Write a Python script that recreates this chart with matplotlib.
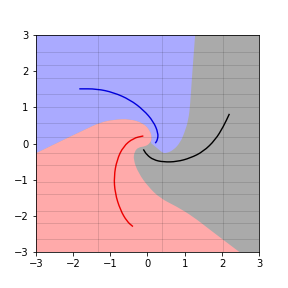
import matplotlib
matplotlib.use('Agg')
import matplotlib.pyplot as plt
from matplotlib.path import Path
from matplotlib.patches import PathPatch

# decision region borders
blue_edge_x = [1.28, 1.23, 1.19, 1.15, 1.10, 0.99, 0.88, 0.70, 0.50, 0.40, 0.30, 0.16, 0.08,
               0.12, 0.07, -0.11, -0.47, -0.91, -1.27, -1.65, -2.26, -3]
blue_edge_y = [3, 2.31, 1.76, 1.11, 0.65, 0.29, 0.03, -0.18, -0.27, -0.25, -0.16, -0.04, 0.02,
               0.15, 0.36, 0.56, 0.68, 0.66, 0.58, 0.40, 0.10, -0.27]
red_edge_x = [-3, -2.26, -1.65, -1.27, -0.91, -0.47, -0.11, 0.07, 0.12, 0.07, -0.06, -0.24, -0.35,
              -0.38, -0.24, 0.02, 0.34, 0.79, 1.23, 1.68, 2.04, 2.40, 2.48]
red_edge_y = [-0.27, 0.10, 0.40, 0.58, 0.66, 0.68, 0.56, 0.36, 0.15, 0.01, -0.08, -0.10, -0.22,
              -0.45, -0.82, -1.19, -1.51, -1.74, -2.02, -2.38, -2.66, -2.94, -3]

# spiral arms
blue_arm_x = [-1.83, -1.36, -0.91, -0.47, -0.11, 0.16, 0.29, 0.27, 0.21]
blue_arm_y = [1.51, 1.51, 1.41, 1.21, 0.93, 0.61, 0.29, 0.10, 0.01]
red_arm_x = [-0.11, -0.38, -0.65, -0.82, -0.90, -0.87, -0.73, -0.55, -0.39]
red_arm_y = [0.21, 0.15, -0.08, -0.45, -0.91, -1.37, -1.83, -2.15, -2.29]
black_arm_x = [-0.11, -0.02, 0.16, 0.43, 0.79, 1.15, 1.50, 1.82, 2.04, 2.20]
black_arm_y = [-0.16, -0.31, -0.45, -0.51, -0.50, -0.40, -0.22, 0.10, 0.47, 0.82]

# faint seam lines visible in the background
seam_y = [2.52, 2.17, 1.80, 1.36, 1.00, 0.56, 0.19, -0.25, -0.60, -1.05, -1.40, -1.85, -2.20, -2.64]
seam_x = [-1.34, 0.38, 2.02]


def smooth(xs, ys, corners=()):
    # quadratic curve through the midpoints, ends kept exact
    pts = list(zip(xs, ys))
    verts = [pts[0], ((pts[0][0] + pts[1][0]) / 2, (pts[0][1] + pts[1][1]) / 2)]
    codes = [Path.MOVETO, Path.LINETO]
    for i in range(1, len(pts) - 1):
        mid = ((pts[i][0] + pts[i + 1][0]) / 2, (pts[i][1] + pts[i + 1][1]) / 2)
        verts += [pts[i], mid]
        codes += [Path.CURVE3, Path.CURVE3]
    verts.append(pts[-1])
    codes.append(Path.LINETO)
    for c in corners:
        verts.append(c)
        codes.append(Path.LINETO)
    if corners:
        verts.append(pts[0])
        codes.append(Path.CLOSEPOLY)
    return Path(verts, codes)


fig = plt.figure(figsize=(4, 4), dpi=72)
ax = fig.add_axes([0.124, 0.124, 0.776, 0.755])
ax.set_facecolor('#aaaaaa')

ax.add_patch(PathPatch(smooth(blue_edge_x, blue_edge_y, [(-3, 3)]), fc='#aaaaff', lw=0))
ax.add_patch(PathPatch(smooth(red_edge_x, red_edge_y, [(-3, -3)]), fc='#ffaaaa', lw=0))

for y in seam_y:
    ax.axhline(y, color='k', alpha=0.15, lw=0.8)
for x in seam_x:
    ax.axvline(x, color='k', alpha=0.15, lw=0.8)

for xs, ys, col in [(blue_arm_x, blue_arm_y, '#0000dd'),
                    (red_arm_x, red_arm_y, '#ee0000'),
                    (black_arm_x, black_arm_y, 'k')]:
    ax.add_patch(PathPatch(smooth(xs, ys), fc='none', ec=col, lw=1.4))

ax.set_xlim(-3, 3)
ax.set_ylim(-3, 3)
ax.set_xticks([-3, -2, -1, 0, 1, 2, 3])
ax.set_yticks([-3, -2, -1, 0, 1, 2, 3])

plt.savefig('out.png', dpi=72)
